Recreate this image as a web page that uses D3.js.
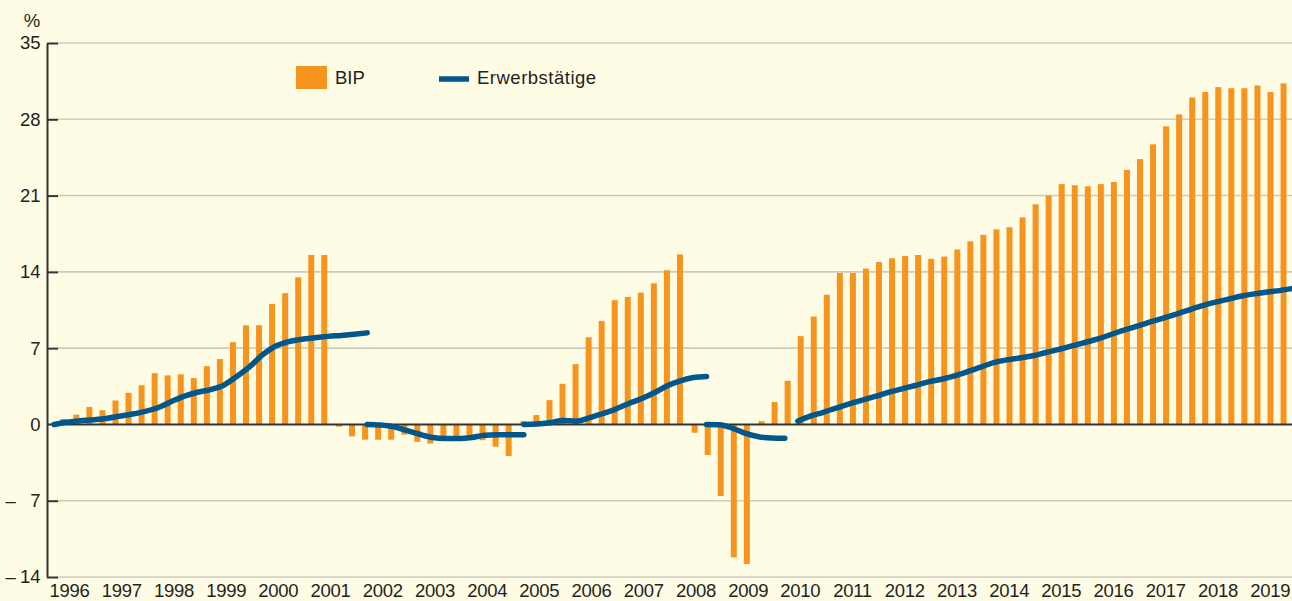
<!DOCTYPE html>
<html>
<head>
<meta charset="utf-8">
<script src="https://cdn.jsdelivr.net/npm/d3@7"></script>
<style>
  html, body { margin: 0; padding: 0; background: #fffce6; }
  svg { display: block; font-family: "Liberation Sans", Arial, sans-serif; }
</style>
</head>
<body>
<svg id="chart"></svg>
<script>
// year tick labels
const years = d3.range(1996, 2020).map(String);
const yTicks = [-14, -7, 0, 7, 14, 21, 28, 35];

// BIP, cumulated change in % since the last turning point (quarterly)
const bipStarts = ["1996 Q1", "2001 Q2", "2004 Q4", "2008 Q1", "2009 Q2"];
const bipCycle1 = [0.5, 0.9, 1.6, 1.3, 2.2, 2.9, 3.6, 4.7, 4.5, 4.6, 4.25, 5.35, 6.0, 7.55, 9.1, 9.1,
  11.05, 12.05, 13.5, 15.55, 15.55];
const bipCycle2 = [-0.2, -1.1, -1.4, -1.4, -1.4, -0.95, -1.6, -1.75, -1.2, -1.1, -1.3, -1.45, -2.05, -2.9];
const bipCycle3 = [0.3, 0.86, 2.23, 3.73, 5.53, 8.0, 9.5, 11.4, 11.7, 12.1, 12.95, 14.15, 15.6];
const bipCycle4 = [-0.76, -2.8, -6.57, -12.2, -12.8];
const bipCycle5 = [0.3, 2.05, 4.0, 8.1, 9.9, 11.9, 13.9, 13.9, 14.3, 14.9, 15.25, 15.45, 15.55, 15.2, 15.4,
  16.05, 16.8, 17.4, 17.9, 18.1, 19.0, 20.2, 21.0, 22.05, 21.95, 21.85, 22.05, 22.25, 23.35, 24.35, 25.7,
  27.35, 28.45, 30.0, 30.5, 30.95, 30.85, 30.85, 31.1, 30.5, 31.3];

// Erwerbstätige, cumulated change in %
const empStarts = ["1995 Q4", "2001 Q4", "2004 Q4", "2008 Q2", "2010 Q1"];
const empCycle1 = [0, 0.2, 0.33, 0.43, 0.55, 0.75, 0.95, 1.2, 1.55, 2.1, 2.6, 2.95, 3.2, 3.6, 4.4, 5.3,
  6.4, 7.2, 7.6, 7.82, 7.95, 8.08, 8.17, 8.28, 8.4];
const empCycle2 = [0, -0.05, -0.2, -0.55, -0.9, -1.2, -1.3, -1.3, -1.2, -1.0, -0.95, -0.95, -0.95];
const empCycle3 = [0, 0.03, 0.15, 0.37, 0.3, 0.6, 0.98, 1.38, 1.9, 2.35, 2.9, 3.55, 4.0, 4.3, 4.4];
const empCycle4 = [0, -0.02, -0.35, -0.83, -1.13, -1.25, -1.27];
const empCycle5 = [0.3, 0.78, 1.14, 1.53, 1.9, 2.25, 2.6, 2.96, 3.27, 3.57, 3.9, 4.15, 4.46, 4.84, 5.25,
  5.67, 5.92, 6.1, 6.3, 6.6, 6.88, 7.2, 7.52, 7.85, 8.25, 8.66, 9.02, 9.4, 9.76, 10.13, 10.52, 10.9,
  11.22, 11.5, 11.78, 11.98, 12.15, 12.3, 12.5];

const bipCycles = [bipCycle1, bipCycle2, bipCycle3, bipCycle4, bipCycle5];
const empCycles = [empCycle1, empCycle2, empCycle3, empCycle4, empCycle5];

function quarterIndex(s) {
  const [y, q] = s.split(" Q");
  return (+y - 1996) * 4 + (+q - 1);
}

class CycleChart {

  constructor(_config) {
    this.config = {
      parentElement: _config.parentElement,
      containerWidth: _config.containerWidth || 1292,
      containerHeight: _config.containerHeight || 601
    }
    this.bars = bipCycles.flatMap((vals, k) =>
      vals.map((v, j) => ({ cycle: k, q: quarterIndex(bipStarts[k]) + j, value: v })));
    this.lines = empCycles.map((vals, k) =>
      vals.map((v, j) => ({ q: quarterIndex(empStarts[k]) + j, value: v })));
    this.initVis();
  }

  initVis() {
    let vis = this;

    vis.svg = d3.select(vis.config.parentElement)
      .attr('width', vis.config.containerWidth)
      .attr('height', vis.config.containerHeight);

    vis.svg.append('rect')
      .attr('width', vis.config.containerWidth)
      .attr('height', vis.config.containerHeight)
      .attr('fill', '#fffce6');

    vis.xScale = d3.scaleLinear()
      .domain([-1, 94])
      .range([54, 1293.75]);

    // each cycle is drawn a little further right, like a grouped bar series
    vis.cycleShift = d3.scalePoint()
      .domain(d3.range(bipCycles.length))
      .range([-3.75, 2.85]);

    vis.yScale = d3.scaleLinear()
      .domain([-14, 35])
      .range([577, 43]);

    vis.axisX = 47;

    // gridlines
    vis.svg.append('g')
      .selectAll('line')
      .data(yTicks.filter(d => d !== 0))
      .join('line')
        .attr('x1', vis.axisX + 11)
        .attr('x2', vis.config.containerWidth)
        .attr('y1', d => vis.yScale(d))
        .attr('y2', d => vis.yScale(d))
        .attr('stroke', '#cdcbc0')
        .attr('stroke-width', 1.6);

    vis.updateVis();
  }

  updateVis() {
    let vis = this;
    const barWidth = 6;

    vis.svg.append('g')
      .selectAll('rect')
      .data(vis.bars)
      .join('rect')
        .attr('x', d => vis.xScale(d.q) + vis.cycleShift(d.cycle) - barWidth / 2)
        .attr('y', d => Math.min(vis.yScale(d.value), vis.yScale(0)))
        .attr('width', barWidth)
        .attr('height', d => Math.abs(vis.yScale(d.value) - vis.yScale(0)))
        .attr('fill', '#f7941e');

    // zero line
    vis.svg.append('line')
      .attr('x1', vis.axisX)
      .attr('x2', vis.config.containerWidth)
      .attr('y1', vis.yScale(0))
      .attr('y2', vis.yScale(0))
      .attr('stroke', '#333')
      .attr('stroke-width', 2);

    // y axis
    const yAxis = d3.axisLeft(vis.yScale)
      .tickValues(yTicks)
      .tickSizeInner(-11)
      .tickSizeOuter(0)
      .tickPadding(6.5)
      .tickFormat(d => Math.abs(d));

    const yG = vis.svg.append('g')
      .attr('transform', `translate(${vis.axisX},0)`)
      .call(yAxis);
    yG.attr('font-size', null).attr('font-family', null);
    yG.select('.domain').attr('stroke', '#333').attr('stroke-width', 2);
    yG.selectAll('.tick line').attr('stroke', '#333').attr('stroke-width', 2)
      .filter(d => d === 0).remove();
    yG.selectAll('.tick text')
      .style('font-size', '18.5px')
      .attr('fill', '#231f20');
    yG.selectAll('.tick')
      .filter(d => d < 0)
      .append('text')
        .attr('x', 5.5 - vis.axisX)
        .attr('dy', '0.32em')
        .attr('text-anchor', 'start')
        .style('font-size', '18.5px')
        .attr('fill', '#231f20')
        .text('\u2013');

    vis.svg.append('text')
      .attr('x', 32)
      .attr('y', 26.5)
      .attr('text-anchor', 'middle')
      .style('font-size', '18.5px')
      .attr('fill', '#231f20')
      .text('%');

    // x axis (year labels only)
    const xAxis = d3.axisBottom(vis.xScale)
      .tickValues(years.map(y => (+y - 1996) * 4))
      .tickSize(0)
      .tickPadding(7.3)
      .tickFormat(d => years[d / 4]);

    const xG = vis.svg.append('g')
      .attr('transform', `translate(2,${vis.yScale(-14)})`)
      .call(xAxis);
    xG.attr('font-size', null).attr('font-family', null);
    xG.select('.domain').remove();
    xG.selectAll('.tick text')
      .style('font-size', '18.5px')
      .style('letter-spacing', '-0.3px')
      .attr('fill', '#231f20');

    // Erwerbstätige
    const line = d3.line()
      .x(d => vis.xScale(d.q))
      .y(d => vis.yScale(d.value))
      .curve(d3.curveMonotoneX);

    vis.svg.append('g')
      .selectAll('path')
      .data(vis.lines)
      .join('path')
        .attr('d', line)
        .attr('fill', 'none')
        .attr('stroke', '#00578c')
        .attr('stroke-width', 5.5)
        .attr('stroke-linecap', 'round')
        .attr('stroke-linejoin', 'round');

    // legend
    const legend = vis.svg.append('g');
    legend.append('rect')
      .attr('x', 296).attr('y', 66)
      .attr('width', 31).attr('height', 23)
      .attr('fill', '#f7941e');
    legend.append('text')
      .attr('x', 335).attr('y', 84.3)
      .style('font-size', '18.5px')
      .attr('fill', '#231f20')
      .text('BIP');
    legend.append('line')
      .attr('x1', 439).attr('x2', 469)
      .attr('y1', 79).attr('y2', 79)
      .attr('stroke', '#00578c')
      .attr('stroke-width', 5.5);
    legend.append('text')
      .attr('x', 477).attr('y', 84.3)
      .style('font-size', '18.5px')
      .style('letter-spacing', '0.5px')
      .attr('fill', '#231f20')
      .text('Erwerbstätige');
  }
}

let chart = new CycleChart({ parentElement: '#chart' });
</script>
</body>
</html>
